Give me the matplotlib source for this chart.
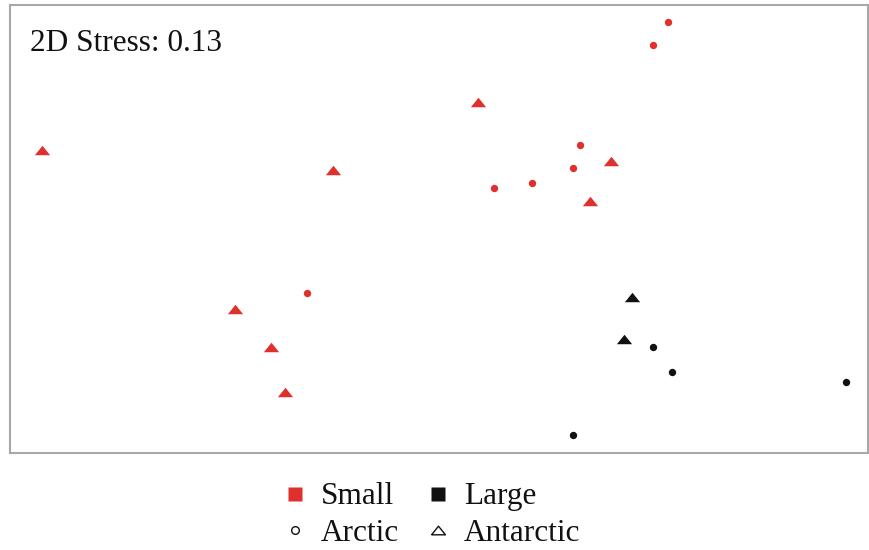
import matplotlib
matplotlib.use("Agg")
import matplotlib.pyplot as plt
from matplotlib.lines import Line2D

plt.rcParams['font.family'] = ['Liberation Serif', 'DejaVu Serif']

# NMDS ordination scores per sample group
small_antarctic_x = [-0.99, -0.263, 0.10, 0.433, 0.38, -0.508, -0.418, -0.383]
small_antarctic_y = [0.20, 0.15, 0.32, 0.173, 0.073, -0.198, -0.293, -0.405]

small_arctic_x = [0.575, 0.538, 0.355, 0.338, 0.235, 0.14, -0.328]
small_arctic_y = [0.52, 0.463, 0.213, 0.155, 0.118, 0.105, -0.158]

large_antarctic_x = [0.485, 0.465]
large_antarctic_y = [-0.168, -0.273]

large_arctic_x = [0.538, 0.585, 1.02, 0.338]
large_arctic_y = [-0.293, -0.355, -0.38, -0.513]

stress = 0.13

red = '#e0302e'
black = '#111111'

# flattened triangle
tri = [(-1, -0.62), (1, -0.62), (0, 0.62), (-1, -0.62)]

fig = plt.figure(figsize=(8.7, 5.5), dpi=100)
ax = fig.add_axes([10 / 870, 1 - 453 / 550, 858 / 870, 448 / 550])

ax.plot(small_antarctic_x, small_antarctic_y, ls='none', marker=tri,
        ms=11, color=red, mec='none')
ax.plot(small_arctic_x, small_arctic_y, ls='none', marker='o',
        ms=5.3, color=red, mec='none')
ax.plot(large_antarctic_x, large_antarctic_y, ls='none', marker=tri,
        ms=11, color=black, mec='none')
ax.plot(large_arctic_x, large_arctic_y, ls='none', marker='o',
        ms=5.3, color=black, mec='none')

ax.set_xlim(-1.07, 1.075)
ax.set_ylim(-0.5575, 0.5625)
ax.set_xticks([])
ax.set_yticks([])
for sp in ax.spines.values():
    sp.set_color('#a8a8a8')
    sp.set_linewidth(1.5)

ax.text(0.023, 0.915, '2D Stress: {:.2f}'.format(stress), transform=ax.transAxes,
        fontsize=22.5, color='#111111', va='center', ha='left')

handles = [
    Line2D([], [], ls='none', marker='s', ms=10, color=red, mec='none'),
    Line2D([], [], ls='none', marker='o', ms=5.5, mfc='white', mec=black, mew=1),
    Line2D([], [], ls='none', marker='s', ms=10, color=black, mec='none'),
    Line2D([], [], ls='none', marker=tri, ms=10, mfc='white', mec=black, mew=1),
]
labels = ['Small', 'Arctic', 'Large', 'Antarctic']
fig.legend(handles, labels, ncol=2, loc='center', bbox_to_anchor=(0.494, 0.063),
           frameon=False, fontsize=22.5, handlelength=1.0, handletextpad=0.34,
           columnspacing=0.74, labelspacing=0.25, borderpad=0,
           labelcolor='#111111')

fig.savefig('out.png', dpi=100)
